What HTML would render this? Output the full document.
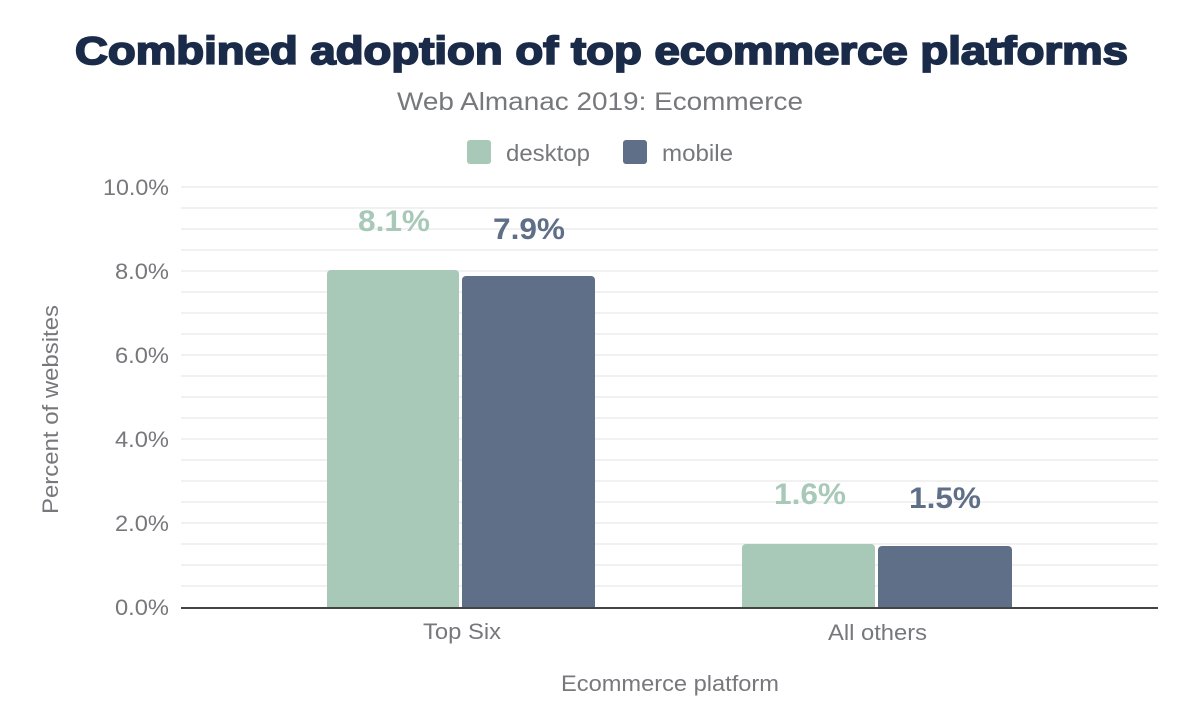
<!DOCTYPE html>
<html><head><meta charset="utf-8"><style>
html,body{margin:0;padding:0;background:#fff;width:1200px;height:722px;overflow:hidden}
</style></head><body>
<svg width="1200" height="722" xmlns="http://www.w3.org/2000/svg" font-family="Liberation Sans, sans-serif">
<text x="75" y="64" font-size="39" font-weight="900" fill="#1a2b49" stroke="#1a2b49" stroke-width="1.8" textLength="1053" lengthAdjust="spacingAndGlyphs">Combined adoption of top ecommerce platforms</text>
<text x="397" y="110" font-size="25" fill="#77787c" textLength="406" lengthAdjust="spacingAndGlyphs">Web Almanac 2019: Ecommerce</text>
<rect x="467" y="140" width="24" height="24" rx="3" fill="#a8c9b8"/>
<text x="506" y="161" font-size="23" fill="#77787c" textLength="84" lengthAdjust="spacingAndGlyphs">desktop</text>
<rect x="623" y="140" width="24" height="24" rx="3" fill="#5f6f88"/>
<text x="662" y="161" font-size="23" fill="#77787c" textLength="71" lengthAdjust="spacingAndGlyphs">mobile</text>
<g stroke="#f1f1f1" stroke-width="2">
<line x1="181" x2="1158" y1="187" y2="187"/><line x1="181" x2="1158" y1="208" y2="208"/>
<line x1="181" x2="1158" y1="229" y2="229"/><line x1="181" x2="1158" y1="250" y2="250"/>
<line x1="181" x2="1158" y1="271" y2="271"/><line x1="181" x2="1158" y1="292" y2="292"/>
<line x1="181" x2="1158" y1="313" y2="313"/><line x1="181" x2="1158" y1="334" y2="334"/>
<line x1="181" x2="1158" y1="355" y2="355"/><line x1="181" x2="1158" y1="376" y2="376"/>
<line x1="181" x2="1158" y1="397" y2="397"/><line x1="181" x2="1158" y1="418" y2="418"/>
<line x1="181" x2="1158" y1="439" y2="439"/><line x1="181" x2="1158" y1="460" y2="460"/>
<line x1="181" x2="1158" y1="481" y2="481"/><line x1="181" x2="1158" y1="502" y2="502"/>
<line x1="181" x2="1158" y1="523" y2="523"/><line x1="181" x2="1158" y1="544" y2="544"/>
<line x1="181" x2="1158" y1="565" y2="565"/><line x1="181" x2="1158" y1="586" y2="586"/>
</g>
<g font-size="22" fill="#77787c">
<text x="103" y="195" textLength="66" lengthAdjust="spacingAndGlyphs">10.0%</text>
<text x="115" y="279" textLength="54" lengthAdjust="spacingAndGlyphs">8.0%</text>
<text x="115" y="363" textLength="54" lengthAdjust="spacingAndGlyphs">6.0%</text>
<text x="115" y="447" textLength="54" lengthAdjust="spacingAndGlyphs">4.0%</text>
<text x="115" y="531" textLength="54" lengthAdjust="spacingAndGlyphs">2.0%</text>
<text x="115" y="615" textLength="54" lengthAdjust="spacingAndGlyphs">0.0%</text>
</g>
<path d="M327 608V274a4 4 0 0 1 4-4h124a4 4 0 0 1 4 4V608Z" fill="#a8c9b8"/>
<path d="M462 608V280a4 4 0 0 1 4-4h125a4 4 0 0 1 4 4V608Z" fill="#5f6f88"/>
<path d="M742 608V548a4 4 0 0 1 4-4h125a4 4 0 0 1 4 4V608Z" fill="#a8c9b8"/>
<path d="M878 608V550a4 4 0 0 1 4-4h126a4 4 0 0 1 4 4V608Z" fill="#5f6f88"/>
<line x1="181" x2="1158" y1="608" y2="608" stroke="#444" stroke-width="2"/>
<g font-size="30" font-weight="bold">
<text x="358" y="231" fill="#a8c9b8" textLength="72" lengthAdjust="spacingAndGlyphs">8.1%</text>
<text x="493" y="239" fill="#5f6f88" textLength="72" lengthAdjust="spacingAndGlyphs">7.9%</text>
<text x="774" y="504" fill="#a8c9b8" textLength="72" lengthAdjust="spacingAndGlyphs">1.6%</text>
<text x="909" y="508" fill="#5f6f88" textLength="72" lengthAdjust="spacingAndGlyphs">1.5%</text>
</g>
<g font-size="22" fill="#77787c">
<text x="423" y="639" textLength="78" lengthAdjust="spacingAndGlyphs">Top Six</text>
<text x="828" y="640" textLength="99" lengthAdjust="spacingAndGlyphs">All others</text>
<text x="561" y="691" textLength="218" lengthAdjust="spacingAndGlyphs">Ecommerce platform</text>
<text transform="translate(58,514) rotate(-90)" textLength="209" lengthAdjust="spacingAndGlyphs">Percent of websites</text>
</g>
</svg>
</body></html>
